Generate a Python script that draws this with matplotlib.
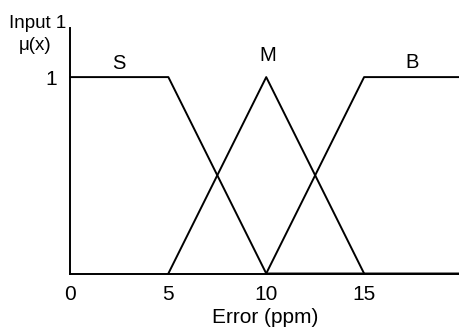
import matplotlib
matplotlib.use("Agg")
from matplotlib import pyplot as plt

# membership functions (error in ppm -> mu)
s_x = [0, 5, 10, 19.9]
s_y = [1, 1, 0, 0]
m_x = [5, 10, 15]
m_y = [0, 1, 0]
b_x = [10, 15, 19.9]
b_y = [0, 1, 1]
set_names = ["S", "M", "B"]
set_label_x = [2.47, 10.08, 17.47]
set_label_y = [1.07, 1.11, 1.075]
x_ticks = [0, 5, 10, 15]
y_ticks = [1]

plt.rcParams['font.family'] = ['Liberation Sans', 'DejaVu Sans']

fig = plt.figure(figsize=(4.6, 3.34), dpi=100)
ax = fig.add_axes([70.5 / 460, (334 - 273.5) / 334, (460 - 70.5) / 460, (273.5 - 28) / 334])

for xs, ys in [(s_x, s_y), (m_x, m_y), (b_x, b_y)]:
    ax.plot(xs, ys, color="black", linewidth=1.4, clip_on=False)

for name, lx, ly in zip(set_names, set_label_x, set_label_y):
    ax.text(lx, ly, name, ha="center", va="center", fontsize=14.5)

ax.set_xlim(0, 19.9)
ax.set_ylim(0, 1.25)
ax.spines['top'].set_visible(False)
ax.spines['right'].set_visible(False)
ax.spines['left'].set_linewidth(1.4)
ax.spines['bottom'].set_linewidth(1.4)

ax.set_xticks(x_ticks)
ax.set_xticklabels([str(t) for t in x_ticks])
ax.set_yticks(y_ticks)
ax.set_yticklabels([str(t) for t in y_ticks])
ax.tick_params(length=0, labelsize=15, pad=8)
ax.tick_params(axis="y", pad=10)

ax.set_xlabel("Error (ppm)", fontsize=15, labelpad=3)
fig.text(38 / 460, 1 - 28 / 334, "Input 1", ha="center", va="baseline", fontsize=13.5)
fig.text(35 / 460, 1 - 50 / 334, "\u03bc(x)", ha="center", va="baseline", fontsize=13.5)

fig.savefig("out.png", dpi=100)
plt.close()
